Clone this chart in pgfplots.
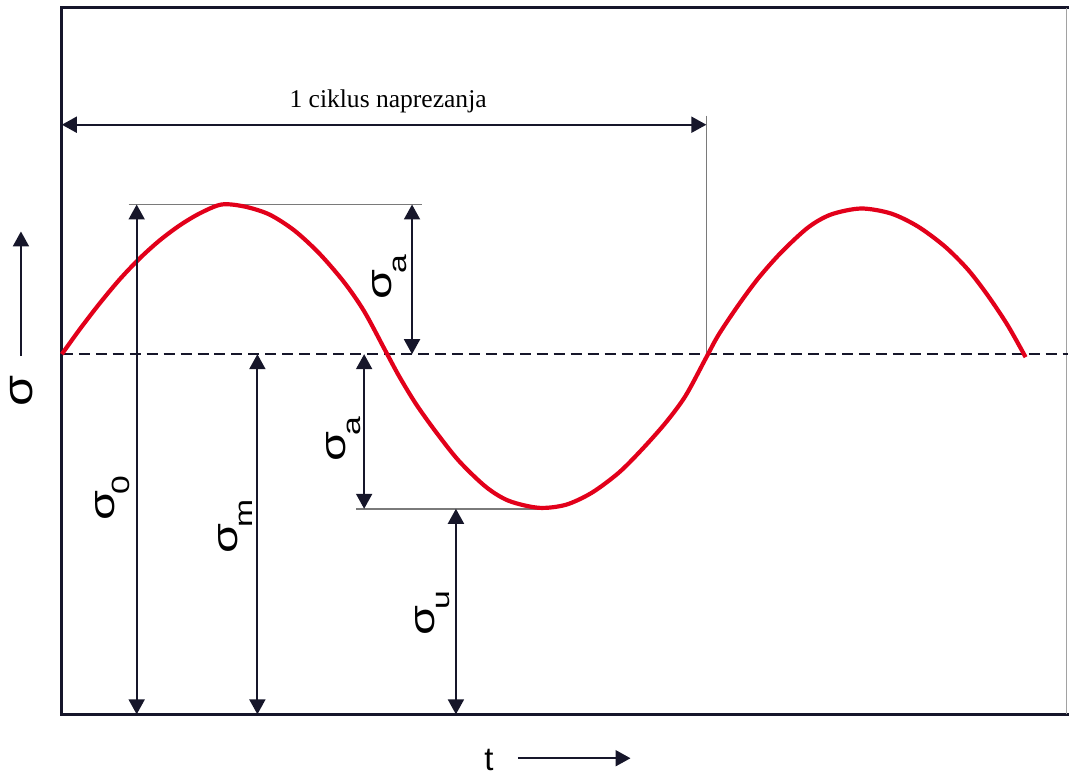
\documentclass[border=0pt]{standalone}
\usepackage{pgfplots}
\pgfplotsset{compat=1.18}
\usepackage{fontspec}
\setmainfont{Liberation Serif}
\newfontfamily\arialfont{Liberation Sans}
\usetikzlibrary{arrows.meta}
\usepackage{graphicx}
\definecolor{ink}{HTML}{16162A}
\definecolor{curvered}{HTML}{E2001A}
\definecolor{guide}{HTML}{7A7A7A}
\newcommand{\siglabel}[1]{\scalebox{1.35}[1]{\arialfont\fontsize{18}{20}\selectfont σ\kern-1.5pt\raisebox{-7.5pt}{\fontsize{12.5}{13}\selectfont #1}}}
\tikzset{dim/.style={draw=ink, line width=1pt, {Triangle[length=7.5pt,width=8pt]}-{Triangle[length=7.5pt,width=8pt]}}}
\begin{document}
\begin{tikzpicture}
\begin{axis}[
  width=503.5pt, height=354pt, scale only axis,
  xmin=62, xmax=1069, ymin=0, ymax=708,
  xtick=\empty, ytick=\empty,
  axis line style={draw=none},
  clip=false,
]
% frame
\draw[draw=ink, line width=1.5pt] (rel axis cs:1.002,1) -- (rel axis cs:0,1) -- (rel axis cs:0,0) -- (rel axis cs:1.002,0);
\draw[draw=guide!70, line width=0.6pt] (rel axis cs:1,0) -- (rel axis cs:1,1);
% mean line
\addplot[draw=ink, line width=1.3pt, dash pattern=on 5.5pt off 3pt] coordinates {(62,361) (1070,361)};
% guide lines
\addplot[draw=guide, line width=0.8pt] coordinates {(129,511) (423,511)};
\addplot[draw=guide, line width=0.8pt] coordinates {(357,206) (548,206)};
\addplot[draw=guide, line width=0.8pt] coordinates {(708,600) (708,361)};
% stress curve
\addplot[draw=curvered, line width=2.1pt, smooth, tension=0.5] coordinates {
(62,361) (80,386) (100,412) (120,436) (140,457) (160,475) (180,490) (200,502) (222,511) (245,509) (270,501) (295,485) (320,462) (345,433) (365,404) (386,365) (400,339) (417,311) (437,283) (460,254) (487,228) (510,214) (540,207) (567,210) (593,222) (620,242) (643,265) (667,292) (687,319) (707,356) (720,380) (740,410) (760,437) (783,463) (810,488) (833,501) (863,507) (893,502) (920,489) (947,469) (970,446) (990,420) (1010,390) (1028,358)
};
% dimension arrows
\draw[dim] (axis cs:137,0) -- (axis cs:137,511);
\draw[dim] (axis cs:413,511) -- (axis cs:413,361);
\draw[dim] (axis cs:258,361) -- (axis cs:258,0);
\draw[dim] (axis cs:365,361) -- (axis cs:365,206);
\draw[dim] (axis cs:457,206) -- (axis cs:457,0);
\draw[dim] (axis cs:62,591) -- (axis cs:708,591);
% labels
\node[anchor=base, font=\fontsize{12.8}{14}\selectfont] at (axis cs:389,608) {1 ciklus naprezanja};
\node[rotate=90] at (axis cs:113,217) {\siglabel{0}};
\node[rotate=90] at (axis cs:236,188) {\siglabel{m}};
\node[rotate=90] at (axis cs:391,438) {\siglabel{a}};
\node[rotate=90] at (axis cs:344,276) {\siglabel{a}};
\node[rotate=90] at (axis cs:434,101) {\siglabel{u}};
% axis names
\node[rotate=90] at (axis cs:22,324) {\scalebox{1.2}[1]{\arialfont\fontsize{21}{22}\selectfont σ}};
\draw[draw=ink, line width=1pt, -{Triangle[length=7.5pt,width=8pt]}] (axis cs:21,359) -- (axis cs:21,484);
\node[anchor=base, font=\arialfont\fontsize{16.5}{18}\selectfont] at (axis cs:490,-56) {t};
\draw[draw=ink, line width=1pt, -{Triangle[length=7.5pt,width=8pt]}] (axis cs:519,-44) -- (axis cs:632,-44);
% picture extent
\path (axis cs:0,-57) rectangle (axis cs:1070,716);
\end{axis}
\end{tikzpicture}
\end{document}
